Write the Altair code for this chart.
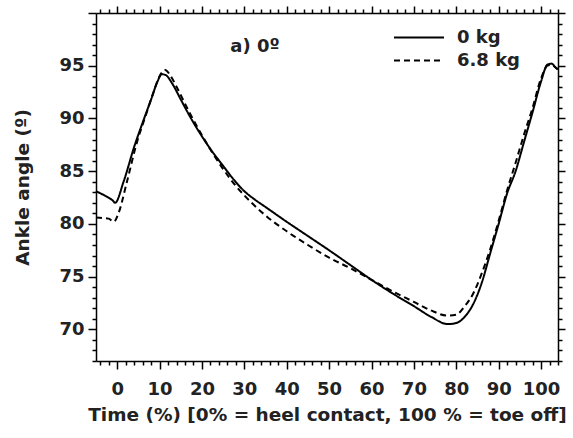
import altair as alt
import pandas as pd

# 0 kg (solid)
x0 = [-5, -3, -1, -0.5, 1.5, 4, 6, 8, 9.5, 10.5, 11.5, 13, 15, 17, 20, 22, 25, 27.5, 30, 32.5, 35,
      40, 45, 50, 55, 60, 65, 70, 74, 78, 80, 82, 84, 86, 88, 90, 92, 94, 96, 98, 100,
      101.5, 102.5, 103.5, 104]
y0 = [83.1, 82.7, 82.2, 82.0, 84.0, 87.3, 89.6, 91.8, 93.5, 94.2, 94.1, 93.3, 91.8, 90.3, 88.3, 87.1,
      85.5, 84.2, 83.1, 82.3, 81.6, 80.2, 78.85, 77.5, 76.1, 74.7, 73.4, 72.2, 71.2, 70.5, 70.6, 71.2,
      72.4, 74.4, 77.2, 80.0, 82.9, 85.0, 87.8, 90.6, 93.5, 95.1, 95.2, 94.8, 94.7]

# 6.8 kg (dashed)
x1 = [-5, -2, -0.8, 0.3, 2.3, 4.7, 6.5, 8.5, 10, 11.3, 12.5, 14, 17, 20, 25, 28, 30, 32.5, 35, 40, 45,
      50, 55, 60, 65, 70, 74, 78, 80, 82, 84, 86, 88, 90, 92, 94, 96, 98, 100, 101.5, 102.5,
      103.5, 104]
y1 = [80.6, 80.5, 80.2, 81.0, 84.0, 87.8, 90.0, 92.4, 94.0, 94.6, 94.1, 93.0, 90.6, 88.4, 85.2,
      83.6, 82.7, 81.7, 80.8, 79.3, 78.0, 76.8, 75.8, 74.7, 73.6, 72.6, 71.8, 71.3, 71.4, 72.2, 73.4,
      75.3, 77.6, 80.3, 83.2, 85.8, 88.5, 91.0, 93.8, 95.0, 95.1, 94.8, 94.6]

series = ["0 kg", "6.8 kg"]

x_ticks = list(range(-4, 105, 2))
y_ticks = list(range(67, 101))

annot_text = ["a) 0º"]
annot_x = [32.5]
annot_y = [96.8]

df = pd.DataFrame(
    {"t": x0 + x1, "angle": y0 + y1, "load": [series[0]] * len(x0) + [series[1]] * len(x1)}
)
ann = pd.DataFrame({"t": annot_x, "angle": annot_y, "label": annot_text})

FONT = "DejaVu Sans"
TXT = "#222"
xscale = alt.Scale(domain=[-5, 104], nice=False, zero=False)
yscale = alt.Scale(domain=[67, 100], nice=False, zero=False)

bottom_axis = alt.Axis(
    orient="bottom",
    values=x_ticks,
    labelExpr="datum.value % 10 === 0 ? datum.label : ''",
    tickSize={"condition": {"test": "datum.value % 10 === 0", "value": 8}, "value": 4},
    tickColor="black", tickWidth=1.5, domainColor="black", domainWidth=1.5,
    labelFont=FONT, labelFontSize=18, labelFontWeight="bold", labelColor=TXT,
    labelPadding=11, labelFlush=False, labelOverlap=False, grid=False,
    title="Time (%) [0% = heel contact, 100 % = toe off]",
    titleFont=FONT, titleFontSize=18.5, titleFontWeight="bold", titleColor=TXT, titlePadding=7,
)
top_axis = alt.Axis(
    orient="top", values=x_ticks, labels=False, title=None, grid=False,
    tickSize={"condition": {"test": "datum.value % 10 === 0", "value": 7}, "value": 4},
    tickColor="black", tickWidth=1.5, domainColor="black", domainWidth=1.5,
)
left_axis = alt.Axis(
    orient="left", values=y_ticks,
    labelExpr="datum.value % 5 === 0 && datum.value < 100 ? datum.label : ''",
    tickSize={"condition": {"test": "datum.value % 5 === 0", "value": 8}, "value": 4},
    tickColor="black", tickWidth=1.5, domainColor="black", domainWidth=1.5,
    labelFont=FONT, labelFontSize=18, labelFontWeight="bold", labelColor=TXT,
    labelPadding=4, labelOverlap=False, grid=False,
    title="Ankle angle (º)",
    titleFont=FONT, titleFontSize=18.5, titleFontWeight="bold", titleColor=TXT, titlePadding=26,
)
right_axis = alt.Axis(
    orient="right", values=y_ticks, labels=False, title=None, grid=False,
    tickSize={"condition": {"test": "datum.value % 5 === 0", "value": 7}, "value": 4},
    tickColor="black", tickWidth=1.5, domainColor="black", domainWidth=1.5,
)

lines = alt.Chart(df).mark_line(color="black", strokeWidth=2, interpolate="monotone").encode(
    x=alt.X("t:Q", scale=xscale, axis=bottom_axis),
    y=alt.Y("angle:Q", scale=yscale, axis=left_axis),
    strokeDash=alt.StrokeDash(
        "load:N",
        scale=alt.Scale(domain=series, range=[[1, 0], [6, 4]]),
        legend=alt.Legend(
            orient="none", legendX=297, legendY=16, title=None,
            symbolType="stroke", symbolSize=2500, symbolStrokeWidth=2,
            symbolStrokeColor="black", labelFont=FONT, labelFontSize=18,
            labelFontWeight="bold", labelColor=TXT, rowPadding=4, labelOffset=12,
            clipHeight=17, padding=0,
        ),
    ),
    detail="load:N",
)

text = alt.Chart(ann).mark_text(font=FONT, fontSize=18, fontWeight="bold", color=TXT).encode(
    x=alt.X("t:Q", scale=xscale, axis=top_axis),
    y=alt.Y("angle:Q", scale=yscale, axis=right_axis),
    text="label:N",
)

chart = (
    alt.layer(lines, text)
    .resolve_axis(x="independent", y="independent")
    .properties(
        width=462, height=348,
        autosize=alt.AutoSizeParams(type="none"),
        padding={"left": 96, "top": 13, "right": 15, "bottom": 77},
        background="white",
    )
    .configure_view(stroke=None)
)

chart.save("out.html", embed_options={"renderer": "svg", "actions": False})
